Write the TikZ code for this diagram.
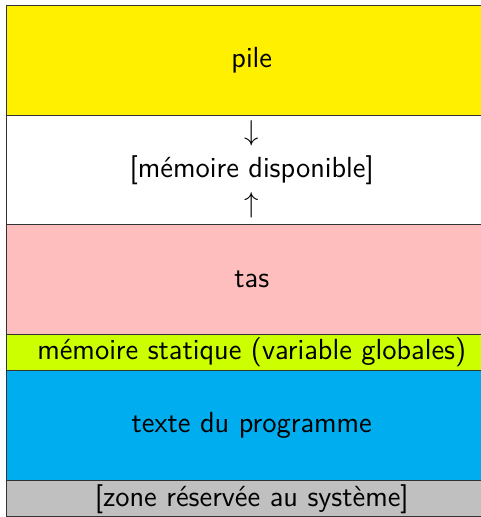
\documentclass[tikz,border=0pt]{standalone}
\usepackage{fontspec}
\definecolor{jaune}{RGB}{255,240,0}
\definecolor{rose}{RGB}{255,190,190}
\definecolor{vert}{RGB}{204,255,0}
\definecolor{bleu}{RGB}{0,174,239}
\definecolor{gris}{RGB}{192,192,192}
\tikzset{
	zone/.style={draw=black!80, thin, inner sep=0pt, minimum width=6.566cm},
	grande/.style={zone, minimum height=1.47cm},
	petite/.style={zone, minimum height=0.49cm}
}
\begin{document}
\begin{tikzpicture}[x=0.49cm, y=0.49cm, font=\sffamily\fontsize{11.1}{13}\selectfont]
		\useasboundingbox (-0.19,0.15) rectangle (12.96,-14.0);
		\node[grande, fill=jaune] (pile) at (6.7,-1.5) {pile};
		\node[grande, fill=white] (libre) at (6.7,-4.5) {};
		\node[grande, fill=rose] (tas) at (6.7,-7.5) {tas};
		\node[petite, fill=vert] (statique) at (6.7,-9.5) {mémoire statique (variable globales)};
		\node[grande, fill=bleu] (texte) at (6.7,-11.5) {texte du programme};
		\node[petite, fill=gris] (systeme) at (6.7,-13.5) {[zone réservée au système]};

		\node (libretxt) at (libre.center) {[mémoire disponible]};
		\node (bas) at (6.7,-3.49) {$\downarrow$};
		\node (haut) at (6.7,-5.47) {$\uparrow$};
	\end{tikzpicture}
\end{document}
